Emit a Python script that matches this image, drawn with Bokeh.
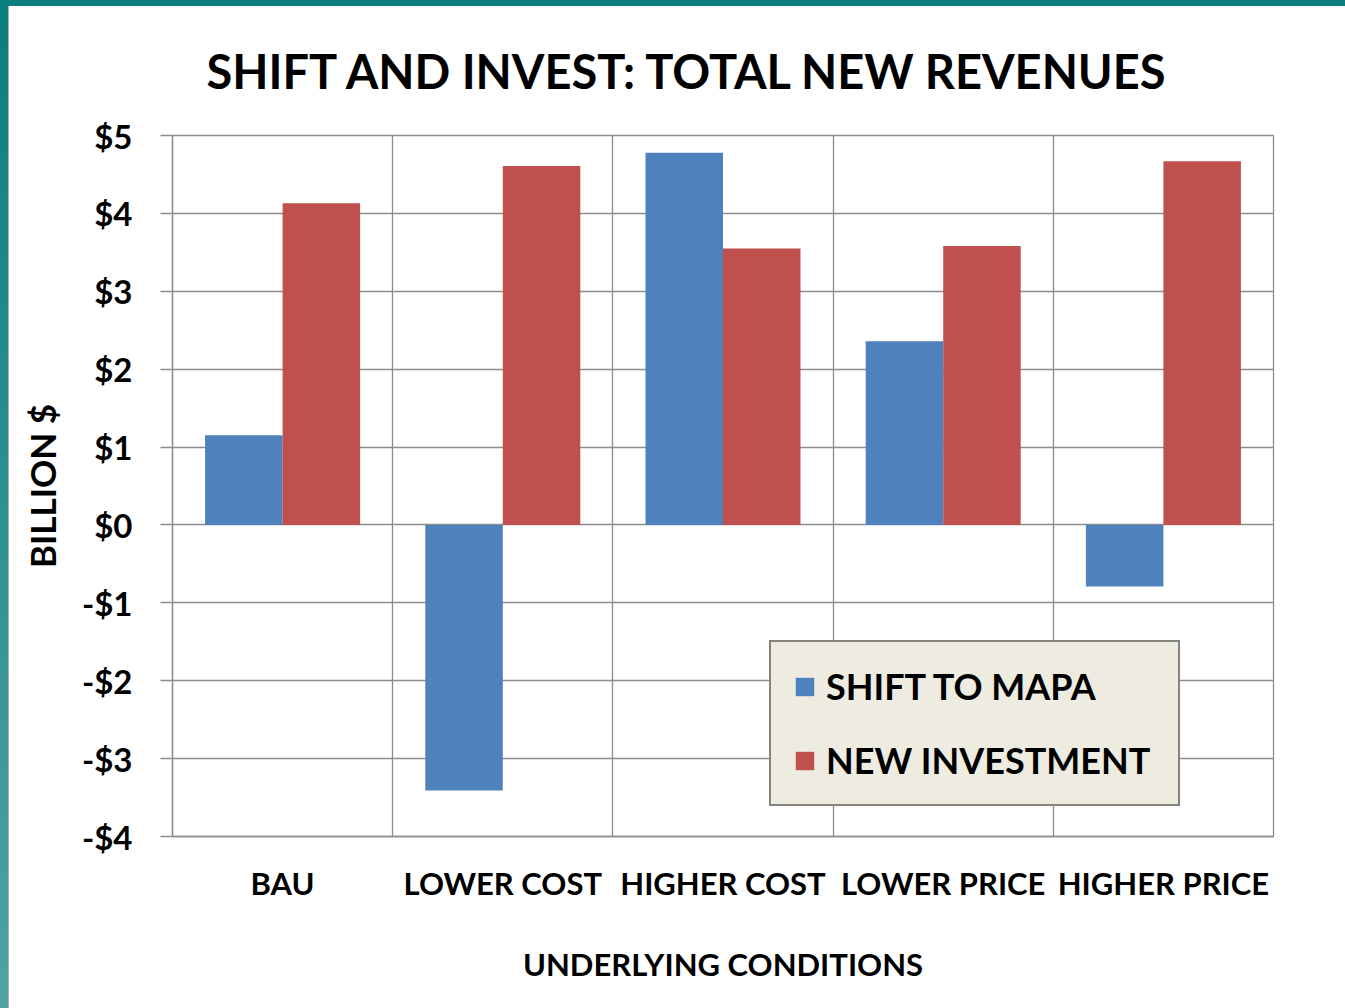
from bokeh.plotting import figure
from bokeh.models import FixedTicker, Legend, LegendItem, ColumnDataSource, Div
from bokeh.layouts import row, column
from bokeh.transform import dodge
from bokeh.embed import file_html
from bokeh.resources import INLINE

categories = ["BAU", "LOWER COST", "HIGHER COST", "LOWER PRICE", "HIGHER PRICE"]
shift_to_mapa = [1.15, -3.41, 4.78, 2.36, -0.79]
new_investment = [4.13, 4.61, 3.55, 3.58, 4.67]
y_ticks = [-4, -3, -2, -1, 0, 1, 2, 3, 4, 5]
y_tick_labels = ["-$4", "-$3", "-$2", "-$1", "$0", "$1", "$2", "$3", "$4", "$5"]
title_text = "SHIFT AND INVEST: TOTAL NEW REVENUES"

FONT = "Lato"
GRID = "#8c8c8c"
BLUE = "#4F81BD"
RED = "#C0504D"

pos = [i + 0.5 for i in range(len(categories))]
src = ColumnDataSource(dict(x=pos, shift=shift_to_mapa, inv=new_investment))

p = figure(width=1336, height=1002, x_range=(0, len(categories)), y_range=(y_ticks[0], y_ticks[-1]),
           output_backend="svg", toolbar_location=None,
           min_border_left=163, min_border_right=72, min_border_top=129, min_border_bottom=172)
p.background_fill_color = "white"
p.border_fill_color = "white"
p.outline_line_color = GRID
p.outline_line_width = 1.3

r1 = p.vbar(x=dodge("x", -0.176, range=p.x_range), top="shift", width=0.352, source=src,
            fill_color=BLUE, line_color=None)
r2 = p.vbar(x=dodge("x", 0.176, range=p.x_range), top="inv", width=0.352, source=src,
            fill_color=RED, line_color=None)

# title
p.title.text = title_text
p.title.align = "left"
p.title.offset = 34
p.title.vertical_align = "top"
p.title.text_font = FONT
p.title.text_font_style = "bold"
p.title.text_font_size = "47px"
p.title.text_color = "black"
p.title.standoff = 70

# x axis
p.xaxis.ticker = FixedTicker(ticks=pos)
p.xaxis.major_label_overrides = {pos[i]: categories[i] for i in range(len(categories))}
p.xaxis.major_label_text_font = FONT
p.xaxis.major_label_text_font_style = "bold"
p.xaxis.major_label_text_font_size = "31px"
p.xaxis.major_label_text_color = "black"
p.xaxis.major_tick_line_color = None
p.xaxis.minor_tick_line_color = None
p.xaxis.major_tick_out = 0
p.xaxis.major_tick_in = 0
p.xaxis.major_label_standoff = 27
p.xaxis.axis_line_color = GRID
p.xaxis.axis_line_width = 1.3
p.xaxis.axis_label = "UNDERLYING CONDITIONS"
p.xaxis.axis_label_text_font = FONT
p.xaxis.axis_label_text_font_style = "bold"
p.xaxis.axis_label_text_font_size = "31px"
p.xaxis.axis_label_text_color = "black"
p.xaxis.axis_label_standoff = 40

# y axis
p.yaxis.ticker = FixedTicker(ticks=y_ticks)
p.yaxis.major_label_overrides = {y_ticks[i]: y_tick_labels[i] for i in range(len(y_ticks))}
p.yaxis.major_label_text_font = FONT
p.yaxis.major_label_text_font_style = "bold"
p.yaxis.major_label_text_font_size = "33px"
p.yaxis.major_label_text_color = "black"
p.yaxis.major_tick_line_color = GRID
p.yaxis.major_tick_line_width = 1.3
p.yaxis.major_tick_out = 12
p.yaxis.major_tick_in = 0
p.yaxis.minor_tick_line_color = None
p.yaxis.major_label_standoff = 28
p.yaxis.axis_line_color = GRID
p.yaxis.axis_line_width = 1.3
p.yaxis.axis_label = "BILLION $"
p.yaxis.axis_label_text_font = FONT
p.yaxis.axis_label_text_font_style = "bold"
p.yaxis.axis_label_text_font_size = "35px"
p.yaxis.axis_label_text_color = "black"
p.yaxis.axis_label_standoff = 16

# grids
p.xgrid.ticker = FixedTicker(ticks=list(range(len(categories) + 1)))
p.xgrid.grid_line_color = GRID
p.xgrid.grid_line_width = 1.3
p.ygrid.grid_line_color = GRID
p.ygrid.grid_line_width = 1.3

legend = Legend(items=[LegendItem(label="SHIFT TO MAPA", renderers=[r1]),
                       LegendItem(label="NEW INVESTMENT", renderers=[r2])],
                location=(597, 30))
legend.background_fill_color = "#EEECE1"
legend.background_fill_alpha = 1
legend.border_line_color = "#1a1a1a"
legend.border_line_width = 2
legend.label_text_font = FONT
legend.label_text_font_style = "bold"
legend.label_text_font_size = "36px"
legend.label_text_color = "black"
legend.glyph_width = 23
legend.glyph_height = 23
legend.label_standoff = 10
legend.label_width = 330
legend.padding = 22
legend.spacing = 30
legend.margin = 0
p.add_layout(legend, "center")

# slide frame: teal strips at top and left
top_strip = Div(text="", width=1345, height=6, margin=0,
                styles={"background-color": "#0B7E80"})
left_strip = Div(text="", width=9, height=1002, margin=0,
                 styles={"background": "linear-gradient(#0B7E80, #4FA3A3)",
                         "box-shadow": "inset -1px 0 0 #B0B0B0"})
layout = column(top_strip, row(left_strip, p, spacing=0), spacing=0)

open("out.html", "w").write(file_html(layout, INLINE))
